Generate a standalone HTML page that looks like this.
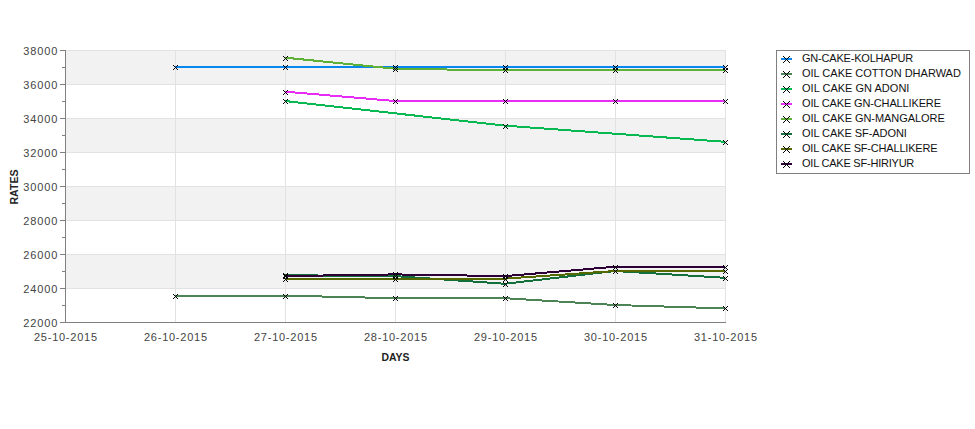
<!DOCTYPE html>
<html><head><meta charset="utf-8"><style>
html,body{margin:0;padding:0;background:#fff;}
svg{display:block;}
.t{font-family:"Liberation Sans", sans-serif;font-size:11px;fill:#444444;}
.al{font-family:"Liberation Sans", sans-serif;font-size:11.5px;font-weight:bold;fill:#222;}
.lg{font-family:"Liberation Sans", sans-serif;font-size:11px;fill:#111;}
</style></head><body>
<svg width="975" height="429" viewBox="0 0 975 429">
<defs>
<g id="mk" fill="#000"><rect x="-2" y="-2" width="1" height="1"/><rect x="-2" y="2" width="1" height="1"/><rect x="-1" y="-1" width="1" height="1"/><rect x="-1" y="1" width="1" height="1"/><rect x="0" y="0" width="1" height="1"/><rect x="0" y="0" width="1" height="1"/><rect x="1" y="1" width="1" height="1"/><rect x="1" y="-1" width="1" height="1"/><rect x="2" y="2" width="1" height="1"/><rect x="2" y="-2" width="1" height="1"/></g>
<g id="lmk" fill="#000"><rect x="-3" y="-3" width="1" height="1"/><rect x="-3" y="3" width="1" height="1"/><rect x="-2" y="-2" width="1" height="1"/><rect x="-2" y="2" width="1" height="1"/><rect x="-1" y="-1" width="1" height="1"/><rect x="-1" y="1" width="1" height="1"/><rect x="0" y="0" width="1" height="1"/><rect x="0" y="0" width="1" height="1"/><rect x="1" y="1" width="1" height="1"/><rect x="1" y="-1" width="1" height="1"/><rect x="2" y="2" width="1" height="1"/><rect x="2" y="-2" width="1" height="1"/><rect x="3" y="3" width="1" height="1"/><rect x="3" y="-3" width="1" height="1"/></g>
</defs>
<rect width="975" height="429" fill="#fff"/>
<rect x="66" y="50" width="659" height="34" fill="#f2f2f2"/>
<rect x="66" y="118" width="659" height="34" fill="#f2f2f2"/>
<rect x="66" y="186" width="659" height="34" fill="#f2f2f2"/>
<rect x="66" y="254" width="659" height="34" fill="#f2f2f2"/>
<rect x="66" y="50" width="660" height="1" fill="#e2e2e2"/>
<rect x="66" y="84" width="660" height="1" fill="#e2e2e2"/>
<rect x="66" y="118" width="660" height="1" fill="#e2e2e2"/>
<rect x="66" y="152" width="660" height="1" fill="#e2e2e2"/>
<rect x="66" y="186" width="660" height="1" fill="#e2e2e2"/>
<rect x="66" y="220" width="660" height="1" fill="#e2e2e2"/>
<rect x="66" y="254" width="660" height="1" fill="#e2e2e2"/>
<rect x="66" y="288" width="660" height="1" fill="#e2e2e2"/>
<rect x="175" y="50" width="1" height="272" fill="#e2e2e2"/>
<rect x="285" y="50" width="1" height="272" fill="#e2e2e2"/>
<rect x="395" y="50" width="1" height="272" fill="#e2e2e2"/>
<rect x="505" y="50" width="1" height="272" fill="#e2e2e2"/>
<rect x="615" y="50" width="1" height="272" fill="#e2e2e2"/>
<rect x="725" y="50" width="1" height="272" fill="#e2e2e2"/>
<rect x="65" y="50" width="1" height="273" fill="#808080"/>
<rect x="65" y="322" width="661" height="1" fill="#808080"/>
<rect x="60" y="322" width="5" height="1" fill="#808080"/>
<rect x="62" y="305" width="3" height="1" fill="#808080"/>
<rect x="60" y="288" width="5" height="1" fill="#808080"/>
<rect x="62" y="271" width="3" height="1" fill="#808080"/>
<rect x="60" y="254" width="5" height="1" fill="#808080"/>
<rect x="62" y="237" width="3" height="1" fill="#808080"/>
<rect x="60" y="220" width="5" height="1" fill="#808080"/>
<rect x="62" y="203" width="3" height="1" fill="#808080"/>
<rect x="60" y="186" width="5" height="1" fill="#808080"/>
<rect x="62" y="169" width="3" height="1" fill="#808080"/>
<rect x="60" y="152" width="5" height="1" fill="#808080"/>
<rect x="62" y="135" width="3" height="1" fill="#808080"/>
<rect x="60" y="118" width="5" height="1" fill="#808080"/>
<rect x="62" y="101" width="3" height="1" fill="#808080"/>
<rect x="60" y="84" width="5" height="1" fill="#808080"/>
<rect x="62" y="67" width="3" height="1" fill="#808080"/>
<rect x="60" y="50" width="5" height="1" fill="#808080"/>
<text x="57.3" y="327" text-anchor="end" class="t" textLength="34" lengthAdjust="spacing">22000</text>
<text x="57.3" y="293" text-anchor="end" class="t" textLength="34" lengthAdjust="spacing">24000</text>
<text x="57.3" y="259" text-anchor="end" class="t" textLength="34" lengthAdjust="spacing">26000</text>
<text x="57.3" y="225" text-anchor="end" class="t" textLength="34" lengthAdjust="spacing">28000</text>
<text x="57.3" y="191" text-anchor="end" class="t" textLength="34" lengthAdjust="spacing">30000</text>
<text x="57.3" y="157" text-anchor="end" class="t" textLength="34" lengthAdjust="spacing">32000</text>
<text x="57.3" y="123" text-anchor="end" class="t" textLength="34" lengthAdjust="spacing">34000</text>
<text x="57.3" y="89" text-anchor="end" class="t" textLength="34" lengthAdjust="spacing">36000</text>
<text x="57.3" y="55" text-anchor="end" class="t" textLength="34" lengthAdjust="spacing">38000</text>
<text x="65.5" y="341" text-anchor="middle" class="t" textLength="63" lengthAdjust="spacing">25-10-2015</text>
<text x="175.5" y="341" text-anchor="middle" class="t" textLength="63" lengthAdjust="spacing">26-10-2015</text>
<text x="285.5" y="341" text-anchor="middle" class="t" textLength="63" lengthAdjust="spacing">27-10-2015</text>
<text x="395.5" y="341" text-anchor="middle" class="t" textLength="63" lengthAdjust="spacing">28-10-2015</text>
<text x="505.5" y="341" text-anchor="middle" class="t" textLength="63" lengthAdjust="spacing">29-10-2015</text>
<text x="615.5" y="341" text-anchor="middle" class="t" textLength="63" lengthAdjust="spacing">30-10-2015</text>
<text x="725.5" y="341" text-anchor="middle" class="t" textLength="63" lengthAdjust="spacing">31-10-2015</text>
<text x="395.5" y="361" text-anchor="middle" class="al" textLength="28" lengthAdjust="spacingAndGlyphs">DAYS</text>
<text transform="translate(18,187) rotate(-90)" x="0" y="0" text-anchor="middle" class="al" textLength="35" lengthAdjust="spacingAndGlyphs">RATES</text>
<path d="M175,67.00 L285,67.00 L395,67.00 L505,67.00 L615,67.00 L725,67.00" stroke="#0a86ef" stroke-width="2" fill="none" shape-rendering="crispEdges"/>
<path d="M175,295.65 L285,295.65 L395,298.20 L505,298.20 L615,305.00 L725,308.40" stroke="#4d8456" stroke-width="2" fill="none" shape-rendering="crispEdges"/>
<path d="M285,101.00 L505,125.65 L725,141.80" stroke="#08b850" stroke-width="2" fill="none" shape-rendering="crispEdges"/>
<path d="M285,91.65 L395,101.00 L505,101.00 L615,101.00 L725,101.00" stroke="#e82cf8" stroke-width="2" fill="none" shape-rendering="crispEdges"/>
<path d="M285,57.65 L395,68.70 L505,70.40 L615,70.40 L725,70.40" stroke="#5eb137" stroke-width="2" fill="none" shape-rendering="crispEdges"/>
<path d="M285,275.25 L395,276.10 L505,283.75 L615,271.00 L725,277.80" stroke="#13703a" stroke-width="2" fill="none" shape-rendering="crispEdges"/>
<path d="M285,278.65 L395,278.65 L505,278.65 L615,271.00 L725,271.00" stroke="#566800" stroke-width="2" fill="none" shape-rendering="crispEdges"/>
<path d="M285,276.10 L395,274.40 L505,276.10 L615,266.75 L725,266.75" stroke="#2c0036" stroke-width="2" fill="none" shape-rendering="crispEdges"/>
<use href="#mk" x="175" y="67"/>
<use href="#mk" x="285" y="67"/>
<use href="#mk" x="395" y="67"/>
<use href="#mk" x="505" y="67"/>
<use href="#mk" x="615" y="67"/>
<use href="#mk" x="725" y="67"/>
<use href="#mk" x="175" y="296"/>
<use href="#mk" x="285" y="296"/>
<use href="#mk" x="395" y="298"/>
<use href="#mk" x="505" y="298"/>
<use href="#mk" x="615" y="305"/>
<use href="#mk" x="725" y="308"/>
<use href="#mk" x="285" y="101"/>
<use href="#mk" x="505" y="126"/>
<use href="#mk" x="725" y="142"/>
<use href="#mk" x="285" y="92"/>
<use href="#mk" x="395" y="101"/>
<use href="#mk" x="505" y="101"/>
<use href="#mk" x="615" y="101"/>
<use href="#mk" x="725" y="101"/>
<use href="#mk" x="285" y="58"/>
<use href="#mk" x="395" y="69"/>
<use href="#mk" x="505" y="70"/>
<use href="#mk" x="615" y="70"/>
<use href="#mk" x="725" y="70"/>
<use href="#mk" x="285" y="275"/>
<use href="#mk" x="395" y="276"/>
<use href="#mk" x="505" y="284"/>
<use href="#mk" x="615" y="271"/>
<use href="#mk" x="725" y="278"/>
<use href="#mk" x="285" y="279"/>
<use href="#mk" x="395" y="279"/>
<use href="#mk" x="505" y="279"/>
<use href="#mk" x="615" y="271"/>
<use href="#mk" x="725" y="271"/>
<use href="#mk" x="285" y="276"/>
<use href="#mk" x="395" y="274"/>
<use href="#mk" x="505" y="276"/>
<use href="#mk" x="615" y="267"/>
<use href="#mk" x="725" y="267"/>
<rect x="776.5" y="50.5" width="193" height="123" fill="#fff" stroke="#808080" stroke-width="1"/>
<rect x="781" y="58" width="11" height="2" fill="#0a86ef"/>
<use href="#lmk" x="786" y="59"/>
<text x="802" y="62" class="lg" textLength="111.3" lengthAdjust="spacing">GN-CAKE-KOLHAPUR</text>
<rect x="781" y="73" width="11" height="2" fill="#4d8456"/>
<use href="#lmk" x="786" y="74"/>
<text x="802" y="77" class="lg" textLength="158.9" lengthAdjust="spacing">OIL CAKE COTTON DHARWAD</text>
<rect x="781" y="88" width="11" height="2" fill="#08b850"/>
<use href="#lmk" x="786" y="89"/>
<text x="802" y="92" class="lg" textLength="107.4" lengthAdjust="spacing">OIL CAKE GN ADONI</text>
<rect x="781" y="103" width="11" height="2" fill="#e82cf8"/>
<use href="#lmk" x="786" y="104"/>
<text x="802" y="107" class="lg" textLength="139.0" lengthAdjust="spacing">OIL CAKE GN-CHALLIKERE</text>
<rect x="781" y="118" width="11" height="2" fill="#5eb137"/>
<use href="#lmk" x="786" y="119"/>
<text x="802" y="122" class="lg" textLength="142.8" lengthAdjust="spacing">OIL CAKE GN-MANGALORE</text>
<rect x="781" y="133" width="11" height="2" fill="#13703a"/>
<use href="#lmk" x="786" y="134"/>
<text x="802" y="137" class="lg" textLength="104.9" lengthAdjust="spacing">OIL CAKE SF-ADONI</text>
<rect x="781" y="148" width="11" height="2" fill="#566800"/>
<use href="#lmk" x="786" y="149"/>
<text x="802" y="152" class="lg" textLength="135.6" lengthAdjust="spacing">OIL CAKE SF-CHALLIKERE</text>
<rect x="781" y="163" width="11" height="2" fill="#2c0036"/>
<use href="#lmk" x="786" y="164"/>
<text x="802" y="167" class="lg" textLength="112.3" lengthAdjust="spacing">OIL CAKE SF-HIRIYUR</text>
</svg>
</body></html>
